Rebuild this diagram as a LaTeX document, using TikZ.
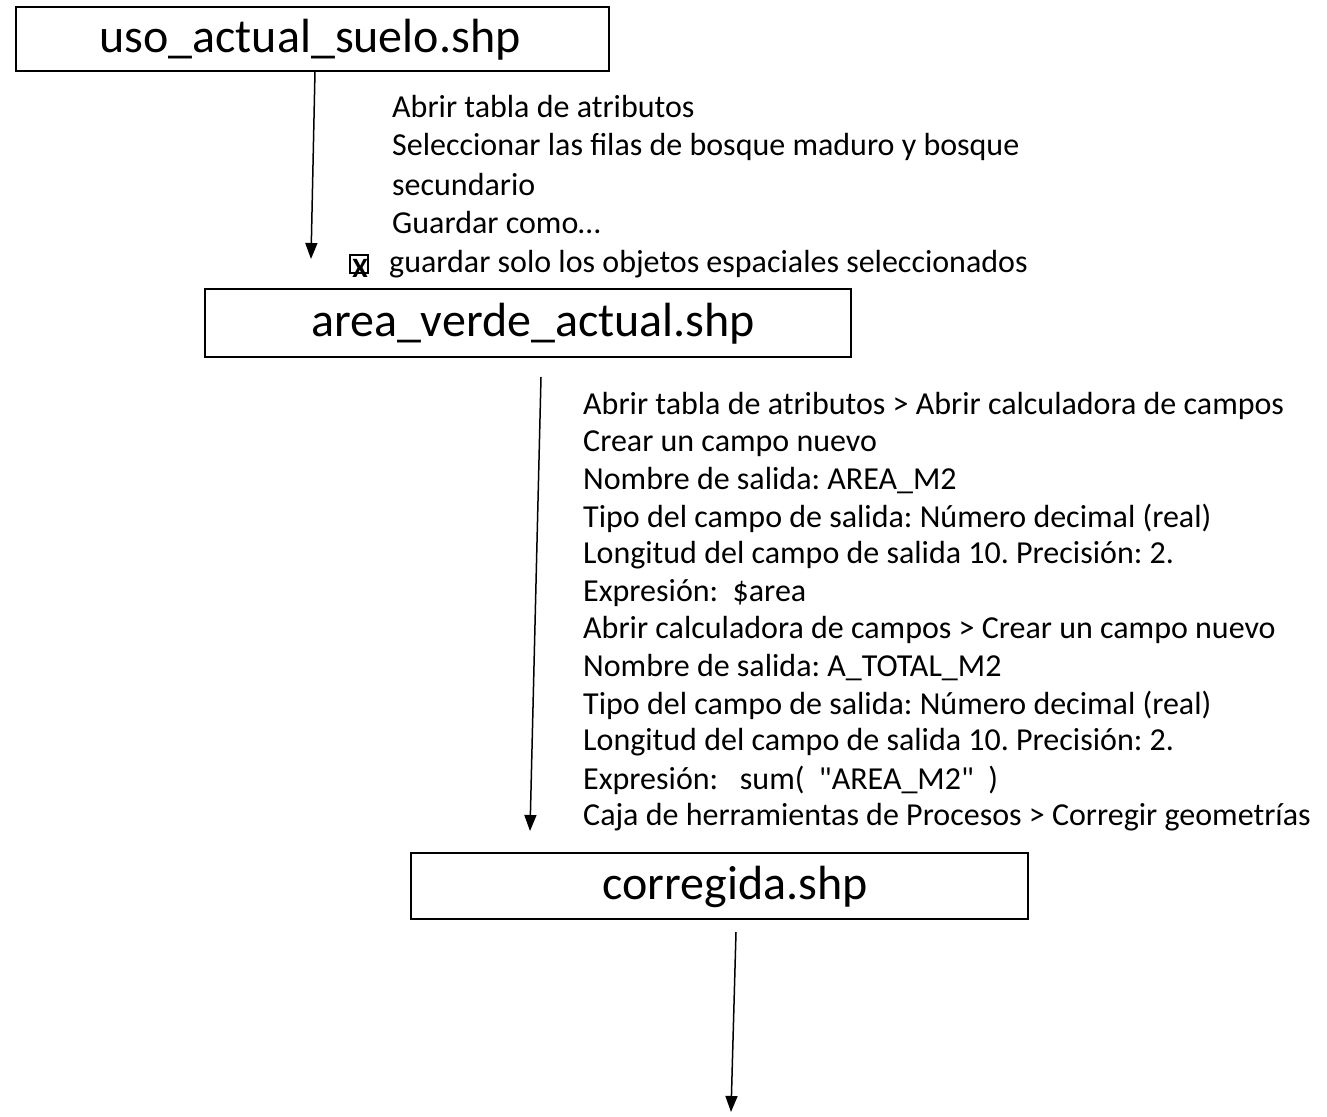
\documentclass[tikz,border=0pt]{standalone}
\usepackage{fontspec}
\setmainfont{Carlito}[Ligatures=TeXOff]
\usetikzlibrary{arrows.meta}
\frenchspacing
\tikzset{
  filebox/.style={draw=black, line width=2pt, minimum width=#1, inner sep=0pt},
  boxlabel/.style={inner sep=0pt, font=\fontsize{48}{56}\selectfont},
  steptext/.style={anchor=west, inner sep=0pt, font=\fontsize{32}{38}\selectfont},
  flow/.style={line width=1.5pt, -{Triangle[width=12pt,length=16pt]}}
}
\begin{document}
\begin{tikzpicture}[x=1pt,y=-1pt]
\useasboundingbox (0,0) rectangle (1327,1116);
% boxes
\node[filebox=593pt, minimum height=64pt] (b1) at (312.5,39) {};
\node[boxlabel] (t1) at (310,40) {uso\_actual\_suelo.shp};
\node[filebox=646pt, minimum height=68pt] (b2) at (528,323) {};
\node[boxlabel] (t2) at (533,324) {area\_verde\_actual.shp};
\node[filebox=617pt, minimum height=66pt] (b3) at (719.5,886) {};
\node[boxlabel] (t3) at (735,887) {corregida.shp};
% arrows
\coordinate (a1s) at (315,71);
\coordinate (a1e) at (311,259);
\draw[flow] (a1s) -- (a1e);
\coordinate (a2s) at (541,377);
\coordinate (a2e) at (530,831);
\draw[flow] (a2s) -- (a2e);
\coordinate (a3s) at (736,932);
\coordinate (a3e) at (731,1112);
\draw[flow] (a3s) -- (a3e);
% upper text block
\node[steptext] (u1) at (392,107) {Abrir tabla de atributos};
\node[steptext] (u2) at (392,147) {Seleccionar las filas de bosque maduro y bosque};
\node[steptext] (u3) at (392,185) {secundario};
\node[steptext] (u4) at (392,223) {Guardar como…};
\node[draw=black, line width=1.6pt, minimum width=18pt, minimum height=18pt, inner sep=0pt] (cb) at (359,264) {};
\node[inner sep=0pt, font=\fontsize{28}{32}\selectfont\bfseries] (cx) at (360,268) {X};
\node[steptext] (u5) at (389,264) {guardar solo los objetos espaciales seleccionados};
% lower text block
\node[steptext] (l1) at (583,406) {Abrir tabla de atributos > Abrir calculadora de campos};
\node[steptext] (l2) at (583,443.4) {Crear un campo nuevo};
\node[steptext] (l3) at (583,480.8) {Nombre de salida: AREA\_M2};
\node[steptext] (l4) at (583,518.2) {Tipo del campo de salida: Número decimal (real)};
\node[steptext] (l5) at (583,555.6) {Longitud del campo de salida 10. Precisión: 2.};
\node[steptext] (l6) at (583,593) {Expresión:\ \ \$area};
\node[steptext] (l7) at (583,630.4) {Abrir calculadora de campos > Crear un campo nuevo};
\node[steptext] (l8) at (583,667.8) {Nombre de salida: A\_TOTAL\_M2};
\node[steptext] (l9) at (583,705.2) {Tipo del campo de salida: Número decimal (real)};
\node[steptext] (l10) at (583,742.6) {Longitud del campo de salida 10. Precisión: 2.};
\node[steptext] (l11) at (583,780) {Expresión:\ \ \ sum(\ \ "AREA\_M2"\ \ )};
\node[steptext] (l12) at (583,817.4) {Caja de herramientas de Procesos > Corregir geometrías};
\end{tikzpicture}
\end{document}
